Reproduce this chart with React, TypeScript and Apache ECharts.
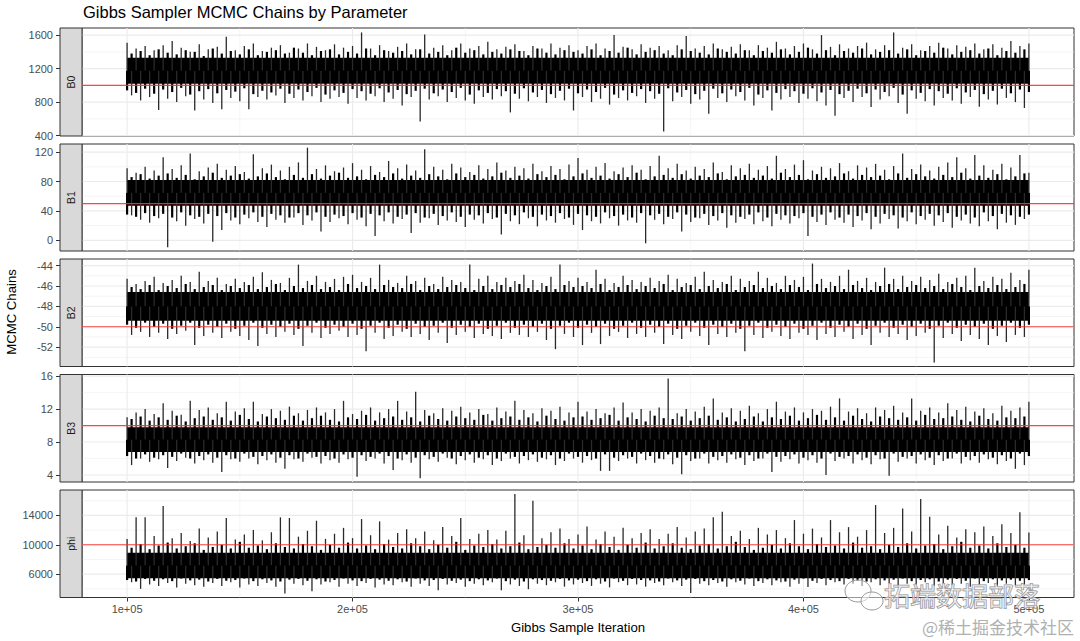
import React, { useEffect, useRef } from "react";
import * as echarts from "echarts";

// ---------- data ----------
const paramNames = ["B0", "B1", "B2", "B3", "phi"];
const trueValues = [1000, 50, -50, 10, 10000];

const xTicks = [100000, 200000, 300000, 400000, 500000];
const xTickLabels = ["1e+05", "2e+05", "3e+05", "4e+05", "5e+05"];
const xMinorTicks = [150000, 250000, 350000, 450000];
const xRange = [80000, 520000];
const iterStart = 100000;
const iterEnd = 500000;
const spikeStep = 4000;

const yRanges = [
  [395, 1685],
  [-14.5, 131],
  [-53.9, -43.35],
  [3.15, 16.2],
  [2825, 17450],
];
const yTicks = [
  [400, 800, 1200, 1600],
  [0, 40, 80, 120],
  [-52, -50, -48, -46, -44],
  [4, 8, 12, 16],
  [6000, 10000, 14000],
];
const yMinorTicks = [
  [600, 1000, 1400],
  [20, 60, 100],
  [-53, -51, -49, -47, -45],
  [6, 10, 14],
  [4000, 8000, 12000, 16000],
];

// dense core of each chain (lower, upper)
const coreBands = [
  [1020, 1330],
  [47, 82],
  [-49.4, -46.6],
  [6.8, 9.8],
  [5450, 8900],
];

// largest upper excursions, one per 4000 iterations from 1e5
const hiB0 = [1510, 1440, 1470, 1420, 1480, 1530, 1450, 1400, 1490, 1430, 1460, 1580, 1420, 1470, 1500, 1410, 1450, 1480, 1390, 1440, 1500, 1460, 1420, 1490, 1450, 1470, 1632, 1440, 1480, 1410, 1460, 1500, 1430, 1608, 1450, 1480, 1420, 1500, 1440, 1470, 1520, 1430, 1460, 1490, 1410, 1470, 1440, 1500, 1450, 1480, 1420, 1470, 1500, 1440, 1600, 1460, 1430, 1490, 1450, 1470, 1420, 1480, 1590, 1440, 1470, 1500, 1430, 1460, 1490, 1420, 1480, 1450, 1520, 1440, 1470, 1500, 1430, 1600, 1460, 1490, 1440, 1470, 1510, 1430, 1480, 1632, 1450, 1490, 1420, 1470, 1510, 1440, 1480, 1460, 1500, 1430, 1490, 1450, 1530, 1470, 1500];
// largest lower excursions, offset by 2000 iterations
const loB0 = [880, 820, 860, 707, 840, 800, 870, 700, 830, 790, 714, 850, 810, 714, 860, 830, 880, 790, 850, 820, 870, 800, 840, 860, 780, 850, 820, 870, 800, 840, 760, 860, 568, 830, 870, 800, 850, 820, 780, 860, 830, 870, 677, 840, 810, 860, 790, 850, 820, 700, 860, 800, 840, 770, 850, 820, 870, 790, 840, 450, 810, 860, 780, 830, 660, 850, 800, 870, 820, 760, 850, 700, 830, 860, 790, 840, 810, 760, 636, 850, 800, 860, 740, 830, 870, 790, 660, 840, 810, 760, 850, 820, 780, 860, 743, 830, 770, 850, 800, 730];
// smaller excursions filling the gaps
const hi2B0 = [1380, 1410, 1360, 1430, 1390, 1370, 1420, 1400, 1350, 1440, 1380, 1410, 1370, 1430, 1360, 1400, 1420, 1380, 1450, 1390, 1360, 1410, 1430, 1370, 1400, 1380, 1440, 1360, 1420, 1390, 1410, 1370, 1430, 1380, 1400, 1360, 1450, 1390, 1420, 1370, 1400, 1380, 1430, 1410, 1360, 1440, 1390, 1370, 1420, 1400, 1380, 1430, 1360, 1410, 1390, 1450, 1370, 1400, 1420, 1380, 1360, 1430, 1410, 1390, 1370, 1440, 1400, 1380, 1420, 1360, 1410, 1390, 1430, 1370, 1400, 1450, 1380, 1420, 1360, 1410, 1390, 1440, 1370, 1400, 1420, 1380, 1430, 1360, 1410, 1390, 1450, 1370, 1400, 1420, 1380, 1440, 1360, 1410, 1390, 1430];
const lo2B0 = [940, 910, 960, 900, 950, 920, 970, 890, 930, 955, 905, 945, 925, 965, 895, 935, 915, 960, 900, 950, 920, 970, 890, 940, 910, 955, 930, 900, 965, 915, 945, 895, 935, 960, 905, 950, 920, 970, 890, 940, 910, 955, 930, 900, 965, 915, 945, 895, 935, 960, 905, 950, 920, 970, 890, 940, 910, 955, 930, 900, 965, 915, 945, 895, 935, 960, 905, 950, 920, 970, 890, 940, 910, 955, 930, 900, 965, 915, 945, 895, 935, 960, 905, 950, 920, 970, 890, 940, 910, 955, 930, 900, 965, 915, 945, 895, 935, 960, 905, 950, 920];

const hiB1 = [98, 92, 100, 95, 113, 97, 102, 118, 94, 99, 104, 96, 101, 93, 117, 98, 103, 95, 100, 106, 126, 97, 102, 94, 99, 105, 96, 101, 93, 108, 98, 103, 95, 124, 100, 96, 104, 99, 93, 102, 97, 106, 95, 100, 98, 104, 94, 101, 97, 103, 112, 96, 100, 105, 94, 99, 102, 96, 101, 115, 98, 104, 95, 100, 97, 106, 93, 102, 98, 104, 96, 101, 115, 97, 103, 109, 95, 100, 98, 105, 94, 102, 99, 104, 96, 101, 118, 97, 103, 95, 100, 106, 113, 98, 116, 102, 96, 104, 99, 116, 92];
const loB1 = [34, 28, 24, 30, -9.5, 26, 20, 29, 23, -2, 14, 27, 22, 30, 25, 18, 28, 24, 31, 21, 27, 12, 25, 30, 22, 28, 19, 6, 26, 23, 29, 10, 24, 30, 21, 27, 25, 18, 28, 23, 29, 8, 26, 22, 30, 19, 27, 24, 29, 21, 14, 26, 23, 30, 20, 27, 24, -4, 28, 22, 29, 12, 25, 30, 21, 27, 17, 24, 29, 22, 26, 19, 28, 23, 30, 6, 25, 21, 28, 24, 18, 27, 15, 23, 29, 16, 26, 22, 28, 20, 25, 17, 27, 23, 19, 26, 15, 24, 21, 29];
const hi2B1 = [86, 90, 84, 88, 91, 85, 89, 83, 87, 92, 85, 88, 90, 84, 87, 91, 86, 83, 89, 85, 90, 84, 88, 92, 85, 87, 83, 89, 86, 91, 84, 88, 85, 90, 87, 83, 91, 86, 89, 84, 87, 92, 85, 88, 84, 90, 86, 89, 83, 87, 91, 85, 88, 84, 90, 86, 92, 83, 87, 89, 85, 90, 84, 88, 86, 91, 83, 87, 89, 85, 88, 84, 92, 86, 89, 83, 90, 85, 87, 91, 84, 89, 86, 88, 83, 91, 85, 90, 87, 84, 89, 86, 92, 84, 88, 85, 90, 83, 87, 91];
const lo2B1 = [35, 32, 37, 33, 36, 31, 38, 34, 32, 36, 33, 37, 31, 35, 38, 32, 36, 34, 31, 37, 34, 38, 32, 35, 33, 37, 31, 36, 34, 38, 32, 35, 37, 31, 36, 33, 38, 32, 35, 34, 37, 31, 36, 34, 38, 32, 35, 33, 37, 31, 36, 34, 32, 38, 33, 35, 31, 37, 34, 36, 32, 38, 35, 31, 36, 33, 37, 34, 32, 35, 38, 31, 36, 34, 33, 37, 32, 35, 38, 31, 35, 33, 37, 32, 36, 34, 31, 38, 33, 36, 34, 37, 32, 35, 31, 38, 33, 36, 34, 32, 35];

const hiB2 = [-45.3, -45.8, -45.5, -45.1, -45.7, -45.4, -45.0, -45.6, -44.6, -45.5, -45.2, -45.8, -45.3, -45.6, -45.1, -44.65, -45.4, -45.7, -45.2, -43.9, -45.5, -45.0, -45.6, -45.3, -45.1, -44.9, -45.6, -45.2, -43.9, -45.4, -45.7, -45.0, -45.5, -45.2, -45.8, -45.1, -45.4, -45.6, -43.9, -45.3, -45.0, -45.6, -45.2, -45.5, -44.9, -45.4, -45.7, -45.1, -43.9, -45.5, -45.2, -45.6, -44.4, -45.3, -45.7, -45.0, -45.4, -45.6, -45.2, -45.5, -44.9, -45.3, -45.7, -45.1, -44.6, -45.4, -45.6, -45.0, -45.3, -45.5, -44.6, -45.2, -45.7, -45.0, -45.4, -45.1, -43.8, -45.3, -45.6, -45.0, -44.4, -45.5, -45.2, -45.6, -44.2, -45.3, -45.0, -45.5, -45.1, -45.4, -44.8, -45.6, -45.2, -45.0, -44.2, -45.5, -45.1, -45.3, -44.7, -45.4, -44.4];
const loB2 = [-50.8, -50.5, -51.0, -50.6, -51.2, -50.7, -50.4, -51.8, -50.9, -50.6, -51.1, -50.5, -50.9, -51.3, -51.9, -50.7, -51.0, -50.5, -50.8, -51.9, -50.6, -51.1, -50.7, -50.4, -51.0, -50.8, -52.4, -50.6, -51.2, -50.9, -50.5, -51.0, -50.7, -51.3, -50.6, -51.6, -50.8, -50.5, -51.1, -50.7, -50.9, -51.2, -50.6, -50.8, -51.0, -50.5, -51.3, -52.2, -50.7, -51.0, -51.8, -50.6, -51.7, -50.9, -50.5, -51.1, -50.7, -51.0, -50.6, -51.7, -50.8, -51.2, -50.5, -50.9, -51.8, -50.7, -51.0, -50.6, -52.4, -50.8, -51.1, -50.5, -50.9, -51.2, -50.6, -50.8, -51.3, -50.7, -51.0, -50.5, -51.2, -50.8, -51.8, -50.6, -51.0, -50.7, -51.3, -50.9, -50.6, -53.5, -51.1, -50.7, -51.4, -50.8, -51.2, -51.8, -50.9, -51.5, -50.8, -51.0];
const hi2B2 = [-46.1, -46.3, -45.9, -46.4, -46.0, -46.2, -45.8, -46.3, -46.1, -45.9, -46.4, -46.0, -46.2, -45.9, -46.3, -46.1, -45.8, -46.4, -46.0, -46.2, -45.9, -46.3, -46.1, -46.4, -45.8, -46.2, -46.0, -46.3, -45.9, -46.1, -46.2, -45.8, -46.4, -46.0, -46.3, -46.1, -45.9, -46.2, -46.4, -46.0, -46.3, -45.9, -46.1, -45.8, -46.2, -46.4, -46.0, -46.3, -45.9, -46.1, -46.0, -46.2, -45.8, -46.4, -46.1, -45.9, -46.3, -46.0, -46.2, -45.8, -46.4, -46.1, -45.9, -46.3, -46.0, -46.2, -45.8, -46.4, -46.1, -45.9, -46.2, -46.0, -46.3, -45.9, -46.1, -46.4, -45.8, -46.2, -46.0, -46.3, -45.9, -46.2, -46.4, -46.0, -45.8, -46.3, -46.1, -45.9, -46.2, -46.0, -46.3, -45.8, -46.1, -46.4, -46.0, -46.2, -45.9, -46.3, -46.1, -45.8];
const lo2B2 = [-49.8, -50.1, -49.6, -50.0, -49.7, -50.2, -49.9, -49.6, -50.1, -49.8, -50.0, -49.7, -50.2, -49.9, -49.6, -50.1, -49.8, -50.0, -49.7, -50.2, -49.9, -49.6, -50.1, -49.8, -50.0, -49.7, -50.2, -49.9, -49.6, -50.1, -49.8, -50.2, -49.7, -50.0, -49.9, -49.6, -50.1, -49.8, -50.0, -49.7, -50.2, -49.9, -49.6, -50.1, -49.8, -50.0, -49.7, -50.2, -49.9, -49.6, -50.1, -49.8, -50.0, -49.7, -50.2, -49.9, -49.6, -50.1, -49.8, -50.0, -49.7, -50.2, -49.9, -49.6, -50.1, -49.8, -50.0, -49.7, -50.2, -49.9, -49.6, -50.1, -49.8, -50.0, -49.7, -50.2, -49.9, -49.6, -50.1, -49.8, -50.0, -49.7, -50.2, -49.9, -49.6, -50.1, -49.8, -50.0, -49.7, -50.2, -49.9, -49.6, -50.1, -49.8, -50.0, -49.7, -50.2, -49.9, -49.6, -50.1, -49.8];

const hiB3 = [11.0, 11.6, 12.0, 11.4, 12.7, 11.8, 11.3, 13.0, 11.9, 12.2, 11.5, 12.9, 11.7, 12.1, 12.9, 11.4, 12.0, 11.8, 12.3, 11.5, 11.9, 12.2, 11.6, 12.0, 13.0, 11.4, 11.8, 12.2, 11.6, 12.0, 13.0, 11.7, 14.1, 11.9, 11.5, 12.1, 11.8, 12.3, 11.6, 12.0, 11.4, 12.2, 11.7, 13.0, 11.9, 11.5, 12.1, 11.8, 12.3, 11.6, 12.9, 11.7, 12.0, 11.5, 12.2, 12.8, 11.6, 12.0, 11.8, 12.2, 15.7, 11.5, 12.0, 11.7, 12.3, 13.3, 11.6, 12.1, 11.8, 12.4, 11.5, 12.0, 12.9, 11.7, 12.2, 11.6, 12.0, 11.8, 12.3, 13.3, 11.7, 12.1, 11.5, 12.2, 11.9, 12.4, 11.6, 13.3, 11.8, 12.2, 11.6, 12.7, 11.9, 12.3, 11.7, 12.1, 11.5, 12.4, 11.8, 12.2, 12.9];
const loB3 = [5.2, 6.0, 5.6, 5.9, 4.85, 5.7, 6.1, 5.4, 5.8, 5.5, 4.35, 5.9, 5.6, 6.0, 5.3, 5.8, 5.5, 4.75, 5.9, 5.6, 6.1, 5.4, 5.8, 5.5, 5.9, 3.8, 5.7, 6.0, 5.4, 4.6, 5.8, 5.5, 3.6, 5.9, 5.6, 6.1, 5.3, 5.8, 5.5, 5.9, 5.2, 5.7, 6.0, 5.4, 5.8, 5.6, 5.9, 5.2, 5.7, 6.0, 5.5, 5.8, 4.5, 4.5, 5.7, 6.0, 5.4, 5.8, 5.5, 5.9, 5.3, 4.1, 5.7, 6.0, 5.4, 5.8, 5.5, 5.9, 5.2, 5.7, 6.0, 4.35, 5.6, 5.9, 5.4, 5.8, 5.5, 4.0, 5.7, 6.0, 5.4, 5.8, 5.3, 5.9, 3.9, 5.6, 6.0, 5.4, 5.8, 5.2, 5.7, 6.0, 5.4, 5.8, 5.5, 5.9, 5.3, 5.7, 4.75, 5.2];
const hi2B3 = [10.8, 11.1, 10.6, 11.0, 10.7, 11.2, 10.5, 10.9, 11.1, 10.7, 11.0, 10.6, 11.3, 10.8, 10.5, 11.1, 10.9, 10.7, 11.2, 10.6, 10.9, 11.2, 10.7, 10.5, 11.0, 10.8, 11.3, 10.6, 10.9, 11.1, 10.7, 11.0, 10.5, 11.2, 10.8, 10.6, 11.1, 10.9, 10.7, 11.3, 10.6, 10.9, 11.1, 10.7, 11.0, 10.5, 11.2, 10.8, 10.6, 11.0, 11.1, 10.7, 10.9, 11.3, 10.6, 11.0, 10.8, 10.5, 11.2, 10.9, 10.8, 11.1, 10.6, 10.9, 11.2, 10.7, 11.0, 10.5, 10.8, 11.1, 10.5, 11.0, 10.8, 11.2, 10.6, 10.9, 11.3, 10.7, 11.0, 10.6, 11.2, 10.8, 10.5, 11.1, 10.9, 10.7, 11.0, 10.6, 11.3, 10.8, 10.9, 11.1, 10.7, 10.5, 11.2, 10.8, 10.6, 11.0, 10.9, 11.1];
const lo2B3 = [6.3, 6.0, 6.5, 6.1, 6.4, 6.2, 6.6, 6.0, 6.3, 6.5, 6.1, 6.4, 6.0, 6.6, 6.2, 6.3, 6.5, 6.1, 6.4, 6.0, 6.6, 6.2, 6.3, 6.0, 6.5, 6.1, 6.4, 6.2, 6.6, 6.3, 6.0, 6.5, 6.1, 6.4, 6.2, 6.6, 6.0, 6.3, 6.5, 6.1, 6.4, 6.0, 6.6, 6.2, 6.3, 6.5, 6.1, 6.4, 6.0, 6.6, 6.2, 6.3, 6.0, 6.5, 6.1, 6.4, 6.2, 6.6, 6.3, 6.0, 6.5, 6.1, 6.4, 6.0, 6.6, 6.2, 6.3, 6.5, 6.1, 6.4, 6.0, 6.6, 6.2, 6.3, 6.5, 6.1, 6.4, 6.0, 6.6, 6.2, 6.3, 6.5, 6.1, 6.4, 6.0, 6.6, 6.2, 6.3, 6.5, 6.1, 6.4, 6.0, 6.6, 6.2, 6.3, 6.5, 6.1, 6.4, 6.0, 6.6, 6.3];

const hiPhi = [10800, 13730, 13730, 11200, 15270, 10900, 11600, 10500, 12200, 11000, 11800, 13640, 10700, 11400, 12000, 10600, 11700, 13730, 13640, 11100, 11900, 13270, 10800, 11500, 12300, 10900, 13500, 11300, 13180, 10700, 11600, 12100, 10900, 11800, 10600, 12400, 11200, 13640, 10800, 11500, 12000, 10700, 11900, 16900, 11300, 15990, 10900, 11700, 12200, 10800, 11400, 12500, 10700, 11800, 11100, 12300, 10900, 11600, 12100, 10800, 11500, 12400, 11000, 11800, 12200, 13730, 14490, 11200, 11900, 10800, 12300, 11400, 12000, 10900, 13360, 11500, 12200, 11000, 13360, 11700, 12400, 11100, 12000, 15400, 11600, 12300, 14950, 11800, 16220, 13820, 11400, 12600, 11000, 12100, 11700, 12500, 11200, 12800, 11600, 14410, 11680];
const loPhi = [4900, 4000, 4600, 4400, 4800, 4200, 4700, 4500, 4300, 4800, 4400, 4900, 4200, 4600, 4400, 4800, 4300, 3370, 4700, 4500, 3680, 4600, 4900, 4300, 4700, 4400, 4800, 4200, 4600, 4500, 4900, 4300, 4700, 4400, 3820, 4600, 4800, 4300, 4700, 4500, 4900, 3820, 4600, 4400, 3960, 4700, 4500, 4900, 4300, 4600, 4800, 4400, 4700, 4200, 4900, 4500, 4600, 4300, 4800, 4500, 4900, 4400, 3450, 4700, 4500, 4800, 4300, 4900, 4600, 4400, 4800, 4500, 4900, 4300, 4700, 4270, 4800, 4500, 4900, 4600, 4700, 4400, 4900, 4500, 4800, 4300, 4700, 4600, 4900, 4400, 4800, 4500, 4700, 4300, 4600, 4800, 4400, 4700, 4500, 4600];
const hi2Phi = [9600, 10100, 9400, 9900, 10300, 9500, 9800, 10200, 9300, 9700, 10000, 9500, 10400, 9600, 9900, 9400, 10200, 9700, 9500, 10100, 9800, 9300, 10000, 9600, 10300, 9500, 9900, 9400, 10100, 9700, 9500, 10200, 9800, 9400, 10000, 9600, 10400, 9300, 9900, 9700, 10100, 9500, 9800, 10300, 9400, 9700, 10000, 9600, 10200, 9500, 9900, 9400, 10100, 9700, 9300, 10000, 9600, 10300, 9500, 9800, 10200, 9600, 9400, 9900, 10100, 9500, 9800, 10400, 9700, 9300, 9600, 10000, 9500, 10200, 9800, 9400, 10100, 9700, 9900, 9500, 10300, 9600, 9800, 9400, 10000, 9700, 10200, 9500, 9900, 10100, 9400, 9800, 10400, 9600, 9900, 9500, 10200, 9700, 10000, 9600];
const lo2Phi = [5200, 5000, 5350, 5100, 5300, 5050, 5400, 5150, 5250, 5000, 5350, 5100, 5200, 5400, 5050, 5300, 5150, 5000, 5250, 5350, 5100, 5300, 5000, 5200, 5400, 5150, 5050, 5350, 5250, 5100, 5300, 5000, 5400, 5150, 5200, 5350, 5100, 5250, 5050, 5300, 5150, 5400, 5050, 5250, 5000, 5300, 5200, 5100, 5350, 5150, 5250, 5050, 5300, 5000, 5400, 5100, 5350, 5200, 5150, 5000, 5400, 5150, 5250, 5350, 5050, 5200, 5000, 5300, 5100, 5400, 5050, 5300, 5150, 5000, 5250, 5400, 5100, 5350, 5200, 5050, 5350, 5100, 5000, 5300, 5150, 5250, 5400, 5050, 5200, 5300, 5000, 5250, 5350, 5100, 5400, 5050, 5300, 5150, 5250, 5100, 5200];

const hiSeries = [hiB0, hiB1, hiB2, hiB3, hiPhi];
const loSeries = [loB0, loB1, loB2, loB3, loPhi];
const hi2Series = [hi2B0, hi2B1, hi2B2, hi2B3, hi2Phi];
const lo2Series = [lo2B0, lo2B1, lo2B2, lo2B3, lo2Phi];

// ---------- layout ----------
const PANEL_TOP = [28, 144, 259, 374.5, 490];
const PANEL_H = [108, 107, 107.5, 107.5, 107.5];
const PLOT_L = 82;
const PLOT_R = 1074;
const STRIP_L = 60;
const FONT = "'Liberation Sans', Arial, sans-serif";

export default function App() {
  const ref = useRef<HTMLDivElement>(null);

  useEffect(() => {
    const el = ref.current!;
    const chart = echarts.init(el, null, { renderer: "svg" });

    const grids: any[] = [];
    const xAxes: any[] = [];
    const yAxes: any[] = [];
    const series: any[] = [];
    const redSeries: any[] = [];
    const graphics: any[] = [];

    paramNames.forEach((name, i) => {
      const last = i === paramNames.length - 1;
      grids.push({
        left: PLOT_L,
        width: PLOT_R - PLOT_L,
        top: PANEL_TOP[i],
        height: PANEL_H[i],
        show: true,
        backgroundColor: "#ffffff",
        borderColor: "#333333",
        borderWidth: 1,
      });
      xAxes.push({
        type: "value",
        gridIndex: i,
        min: xRange[0],
        max: xRange[1],
        show: last,
        axisLine: { show: false },
        splitLine: { show: false },
        axisTick: {
          show: true,
          customValues: xTicks,
          length: 4,
          lineStyle: { color: "#333333", width: 1 },
        },
        axisLabel: {
          customValues: xTicks,
          margin: 6,
          fontSize: 11,
          fontFamily: FONT,
          color: "#4d4d4d",
          formatter: (v: number) => {
            const k = xTicks.indexOf(v);
            return k >= 0 ? xTickLabels[k] : "";
          },
        },
      });
      yAxes.push({
        type: "value",
        gridIndex: i,
        min: yRanges[i][0],
        max: yRanges[i][1],
        offset: PLOT_L - STRIP_L,
        axisLine: { show: false },
        splitLine: { show: false },
        axisTick: {
          show: true,
          customValues: yTicks[i],
          length: 4,
          lineStyle: { color: "#333333", width: 1 },
        },
        axisLabel: {
          customValues: yTicks[i],
          margin: 7,
          fontSize: 11,
          fontFamily: FONT,
          color: "#4d4d4d",
          formatter: (v: number) => String(v),
        },
      });

      // grid lines
      const gridData: number[][] = [];
      yTicks[i].forEach((v) => gridData.push([xRange[0], v, 1, 0]));
      yMinorTicks[i].forEach((v) => gridData.push([xRange[0], v, 0, 0]));
      xTicks.forEach((v) => gridData.push([v, yRanges[i][0], 1, 1]));
      xMinorTicks.forEach((v) => gridData.push([v, yRanges[i][0], 0, 1]));
      series.push({
        type: "custom",
        xAxisIndex: i,
        yAxisIndex: i,
        z: 1,
        silent: true,
        clip: false,
        encode: { x: 0, y: 1 },
        data: gridData,
        renderItem: (params: any, api: any) => {
          const cs = params.coordSys;
          const major = api.value(2) === 1;
          const vertical = api.value(3) === 1;
          const p = api.coord([api.value(0), api.value(1)]);
          const shape = vertical
            ? { x1: p[0], y1: cs.y, x2: p[0], y2: cs.y + cs.height }
            : { x1: cs.x, y1: p[1], x2: cs.x + cs.width, y2: p[1] };
          return {
            type: "line",
            shape,
            style: { stroke: "#ebebeb", lineWidth: major ? 1.1 : 0.55 },
          };
        },
      });

      // dense core of the chain
      series.push({
        type: "custom",
        xAxisIndex: i,
        yAxisIndex: i,
        z: 2,
        silent: true,
        encode: { x: [0, 1], y: [2, 3] },
        data: [[iterStart, iterEnd, coreBands[i][0], coreBands[i][1]]],
        renderItem: (params: any, api: any) => {
          const a = api.coord([api.value(0), api.value(3)]);
          const b = api.coord([api.value(1), api.value(2)]);
          return {
            type: "rect",
            shape: { x: a[0], y: a[1], width: b[0] - a[0], height: b[1] - a[1] },
            style: { fill: "#000000" },
          };
        },
      });

      // excursions of the chain
      const mid = (coreBands[i][0] + coreBands[i][1]) / 2;
      const spikeData: number[][] = [];
      hiSeries[i].forEach((v, k) => spikeData.push([iterStart + k * spikeStep, v, mid, 0]));
      loSeries[i].forEach((v, k) =>
        spikeData.push([iterStart + spikeStep / 2 + k * spikeStep, v, mid, 0])
      );
      hi2Series[i].forEach((v, k) =>
        spikeData.push([iterStart + spikeStep / 2 + k * spikeStep, v, mid, 1])
      );
      lo2Series[i].forEach((v, k) => spikeData.push([iterStart + k * spikeStep, v, mid, 1]));
      series.push({
        type: "custom",
        xAxisIndex: i,
        yAxisIndex: i,
        z: 3,
        silent: true,
        encode: { x: 0, y: [1, 2] },
        data: spikeData,
        renderItem: (params: any, api: any) => {
          const a = api.coord([api.value(0), api.value(1)]);
          const b = api.coord([api.value(0), api.value(2)]);
          const small = api.value(3) === 1;
          return {
            type: "line",
            shape: { x1: a[0], y1: a[1], x2: b[0], y2: b[1] },
            style: { stroke: small ? "#000000" : "#2a2a2a", lineWidth: small ? 2.2 : 1.3 },
          };
        },
      });

      // true value reference line (drawn after all chains)
      redSeries.push({
        type: "custom",
        xAxisIndex: i,
        yAxisIndex: i,
        z: 20,
        zlevel: 1,
        silent: true,
        clip: false,
        encode: { x: 0, y: 1 },
        data: [[xRange[0], trueValues[i]]],
        renderItem: (params: any, api: any) => {
          const cs = params.coordSys;
          const p = api.coord([api.value(0), api.value(1)]);
          return {
            type: "rect",
            shape: { x: cs.x, y: p[1] - 0.6, width: cs.width, height: 1.2 },
            style: { fill: "#ff3030", opacity: 0.9 },
          };
        },
      });

      // strip
      graphics.push({
        type: "rect",
        shape: { x: STRIP_L, y: PANEL_TOP[i], width: PLOT_L - STRIP_L, height: PANEL_H[i] },
        style: { fill: "#d9d9d9", stroke: "#333333", lineWidth: 1 },
        z: 10,
      });
      graphics.push({
        type: "text",
        x: (STRIP_L + PLOT_L) / 2,
        y: PANEL_TOP[i] + PANEL_H[i] / 2,
        rotation: Math.PI / 2,
        style: {
          text: name,
          fontSize: 10.5,
          fontFamily: FONT,
          fill: "#1a1a1a",
          align: "center",
          verticalAlign: "middle",
        },
        z: 11,
      });
    });

    graphics.push({
      type: "text",
      left: 83,
      top: 3,
      style: {
        text: "Gibbs Sampler MCMC Chains by Parameter",
        fontSize: 16.5,
        fontFamily: FONT,
        fill: "#000000",
      },
    });
    graphics.push({
      type: "text",
      x: (PLOT_L + PLOT_R) / 2,
      y: 627,
      style: {
        text: "Gibbs Sample Iteration",
        fontSize: 13.2,
        fontFamily: FONT,
        fill: "#000000",
        align: "center",
        verticalAlign: "middle",
      },
    });
    graphics.push({
      type: "text",
      x: 11,
      y: 312,
      rotation: Math.PI / 2,
      style: {
        text: "MCMC Chains",
        fontSize: 13.2,
        fontFamily: FONT,
        fill: "#000000",
        align: "center",
        verticalAlign: "middle",
      },
    });
    // watermarks
    graphics.push({
      type: "text",
      x: 884,
      y: 594,
      style: {
        text: "拓端数据部落",
        fontSize: 26,
        fontFamily: "'Noto Sans CJK SC', sans-serif",
        fill: "rgba(255,255,255,0.5)",
        stroke: "#8a8a8a",
        lineWidth: 1,
        verticalAlign: "middle",
      },
      z: 20,
      zlevel: 2,
    });
    graphics.push({
      type: "text",
      x: 1074,
      y: 626,
      style: {
        text: "@稀土掘金技术社区",
        fontSize: 17,
        fontFamily: "'Noto Sans CJK SC', sans-serif",
        fill: "#b0b0b0",
        align: "right",
        verticalAlign: "middle",
      },
      z: 20,
      zlevel: 2,
    });
    graphics.push({
      type: "ellipse",
      shape: { cx: 858, cy: 591, rx: 13, ry: 11 },
      style: { fill: "rgba(255,255,255,0.5)", stroke: "#9a9a9a", lineWidth: 1 },
      z: 20,
      zlevel: 2,
    });
    graphics.push({
      type: "ellipse",
      shape: { cx: 872, cy: 601, rx: 11, ry: 9 },
      style: { fill: "rgba(255,255,255,0.5)", stroke: "#9a9a9a", lineWidth: 1 },
      z: 20,
      zlevel: 2,
    });

    chart.setOption({
      animation: false,
      backgroundColor: "#ffffff",
      grid: grids,
      xAxis: xAxes,
      yAxis: yAxes,
      series: series.concat(redSeries),
      graphic: graphics,
    });

    return () => chart.dispose();
  }, []);

  return (
    <div
      ref={ref}
      style={{ position: "absolute", left: 0, top: 0, width: 1080, height: 641, background: "#fff" }}
    />
  );
}
